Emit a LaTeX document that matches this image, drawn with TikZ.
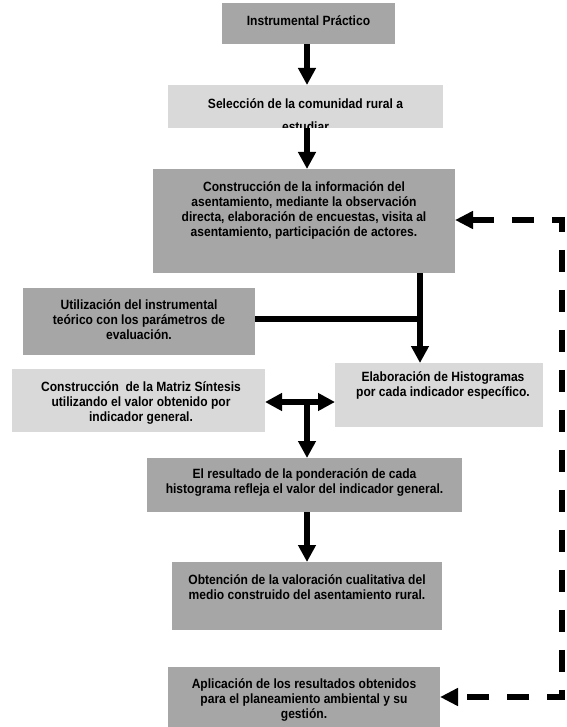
\documentclass[tikz,border=0pt]{standalone}
\usepackage{fontspec}
\setmainfont{Liberation Sans}[FakeStretch=0.9]
\usetikzlibrary{arrows.meta}
\definecolor{dgray}{HTML}{A6A6A6}
\definecolor{lgray}{HTML}{D9D9D9}
\begin{document}
\begin{tikzpicture}[x=1pt,y=-1pt,
  dbox/.style={rectangle, fill=dgray, draw=none, inner sep=0pt, outer sep=0pt},
  lbox/.style={dbox, fill=lgray},
  txt/.style={font=\bfseries\fontsize{13.4}{15}\selectfont, align=center, inner sep=0pt, text=black},
  flow/.style={line width=5.5pt, -{Triangle[length=17pt,width=17pt]}},
  dflow/.style={line width=5.5pt, {Triangle[length=17pt,width=17pt]}-{Triangle[length=17pt,width=17pt]}},
  plainline/.style={line width=5.5pt},
  fback/.style={line width=6.5pt, dash pattern=on 22pt off 18pt, miter limit=4,
    {Triangle[length=18pt,width=17pt]}-{Triangle[length=18pt,width=17pt]}}
]
\fill[white] (0,0) rectangle (566,727);
\useasboundingbox (0,0) rectangle (566,727);

% boxes
\node[dbox, minimum width=173pt, minimum height=41pt] (b1) at (308.5,23.5) {};
\node[lbox, minimum width=275pt, minimum height=43pt] (b2) at (305.5,106.5) {};
\node[dbox, minimum width=302pt, minimum height=104pt] (b3) at (304,221) {};
\node[dbox, minimum width=232pt, minimum height=67pt] (butil) at (139,321.5) {};
\node[lbox, minimum width=208pt, minimum height=64pt] (belab) at (439,395) {};
\node[lbox, minimum width=253pt, minimum height=63pt] (bmat) at (138.5,400.5) {};
\node[dbox, minimum width=315pt, minimum height=54pt] (bres) at (304.5,485) {};
\node[dbox, minimum width=270pt, minimum height=68pt] (bobt) at (307,596) {};
\node[dbox, minimum width=272pt, minimum height=60pt] (bapl) at (304,697) {};

% texts
\node[txt] (t1) at (308.5,21) {Instrumental Práctico};
\begin{scope}
\clip (b2.south west) rectangle (b2.north east);
\node[txt, font=\bfseries\fontsize{13.4}{23}\selectfont] (t2) at (305.5,115) {Selección de la comunidad rural a\\estudiar};
\end{scope}
\node[txt] (t3) at (304,210) {Construcción de la información del\\asentamiento, mediante la observación\\directa, elaboración de encuestas, visita al\\asentamiento, participación de actores.};
\node[txt] (tutil) at (139,320) {Utilización del instrumental\\teórico con los parámetros de\\evaluación.};
\node[txt] (telab) at (443,385.5) {Elaboración de Histogramas\\por cada indicador específico.};
\node[txt] (tmat) at (141,403) {Construcción\ \ de la Matriz Síntesis\\utilizando el valor obtenido por\\indicador general.};
\node[txt] (tres) at (304.5,483) {El resultado de la ponderación de cada\\histograma refleja el valor del indicador general.};
\node[txt] (tobt) at (307,587) {Obtención de la valoración cualitativa del\\medio construido del asentamiento rural.};
\node[txt] (tapl) at (304,699.5) {Aplicación de los resultados obtenidos\\para el planeamiento ambiental y su\\gestión.};

% helper coordinates
\coordinate (colx) at (307,0);
\coordinate (jx) at (420,0);
\coordinate (jy) at (0,319);
\coordinate (dy) at (0,402);
\coordinate (c1) at (562,220);
\coordinate (c2) at (562,697);

% connectors
\draw[flow] (colx |- b1.south) -- (colx |- b2.north);
\draw[flow] (colx |- b2.south) -- (colx |- b3.north);
\draw[flow] (jx |- b3.south) -- (jx |- belab.north);
\draw[plainline] (butil.east |- jy) -- (jx |- jy);
\draw[dflow] (bmat.east |- dy) -- (belab.west |- dy);
\draw[flow] (colx |- dy) -- (colx |- bres.north);
\draw[flow] (colx |- bres.south) -- (colx |- bobt.north);
\draw[fback] (b3.east |- c1) -- (c1) -- (c2) -- (bapl.east |- c2);
\end{tikzpicture}
\end{document}
